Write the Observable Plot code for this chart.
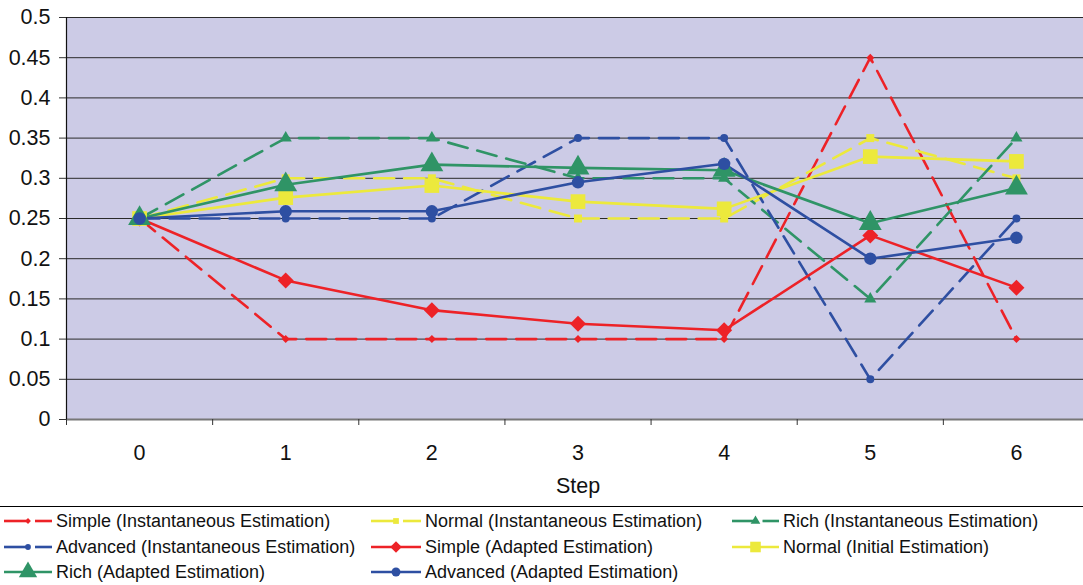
<!DOCTYPE html>
<html><head><meta charset="utf-8">
<script src="https://cdn.jsdelivr.net/npm/d3@7"></script>
<script src="https://cdn.jsdelivr.net/npm/@observablehq/plot@0.6"></script>
<style>
body{margin:0;overflow:hidden;background:#fff;font-family:"Liberation Sans",Arial,sans-serif;}
#legend{position:relative;height:78px;border-top:1.5px solid #000;margin-top:1px;}
.item{position:absolute;display:flex;align-items:center;font-size:18px;color:#111;white-space:nowrap;height:24px;}
.item svg{flex:none;margin-right:4px;}
</style></head><body><div id="chart"></div><div id="legend"></div>
<script>
// Step index along the x axis
const steps = [0, 1, 2, 3, 4, 5, 6];
const yTicks = [0, 0.05, 0.1, 0.15, 0.2, 0.25, 0.3, 0.35, 0.4, 0.45, 0.5];

// Estimated probability per step
const simpleInstant   = [0.25, 0.10, 0.10, 0.10, 0.10, 0.45, 0.10];
const normalInstant   = [0.25, 0.30, 0.30, 0.25, 0.25, 0.35, 0.30];
const richInstant     = [0.25, 0.35, 0.35, 0.30, 0.30, 0.15, 0.35];
const advancedInstant = [0.25, 0.25, 0.25, 0.35, 0.35, 0.05, 0.25];
const simpleAdapted   = [0.25, 0.173, 0.136, 0.119, 0.111, 0.229, 0.164];
const normalInitial   = [0.25, 0.276, 0.291, 0.271, 0.262, 0.327, 0.321];
const richAdapted     = [0.25, 0.292, 0.317, 0.313, 0.310, 0.244, 0.288];
const advancedAdapted = [0.25, 0.259, 0.259, 0.295, 0.318, 0.200, 0.226];

const RED = "#ed2227", YELLOW = "#ece93c", GREEN = "#2f9466", BLUE = "#2e4fa2";

const series = [
  {name: "Simple (Instantaneous Estimation)",   values: simpleInstant,   color: RED,    dashed: true,  symbol: "diamond2", r: 3.6},
  {name: "Normal (Instantaneous Estimation)",   values: normalInstant,   color: YELLOW, dashed: true,  symbol: "square",   r: 4.5},
  {name: "Rich (Instantaneous Estimation)",     values: richInstant,     color: GREEN,  dashed: true,  symbol: "triangle", r: 4.5},
  {name: "Advanced (Instantaneous Estimation)", values: advancedInstant, color: BLUE,   dashed: true,  symbol: "circle",   r: 4},
  {name: "Simple (Adapted Estimation)",         values: simpleAdapted,   color: RED,    dashed: false, symbol: "diamond2", r: 7.2},
  {name: "Normal (Initial Estimation)",         values: normalInitial,   color: YELLOW, dashed: false, symbol: "square",   r: 8.3},
  {name: "Rich (Adapted Estimation)",           values: richAdapted,     color: GREEN,  dashed: false, symbol: "triangle", r: 8.5},
  {name: "Advanced (Adapted Estimation)",       values: advancedAdapted, color: BLUE,   dashed: false, symbol: "circle",   r: 6.2}
];

const xDomain = [steps[0] - 0.5, steps[steps.length - 1] + 0.5];
const boundaries = d3.range(xDomain[0], xDomain[1] + 0.01, 1);

const marks = [
  Plot.frame({fill: "#cccbe6", stroke: null}),
  Plot.ruleY(yTicks.slice(1), {stroke: "#2a2a2a", strokeWidth: 1}),
  Plot.ruleY([0], {stroke: "#777", strokeWidth: 2}),
  Plot.ruleX([xDomain[0]], {stroke: "#111", strokeWidth: 1.2}),
  Plot.axisY({ticks: yTicks, tickSize: 7, tickPadding: 9, label: null, tickFormat: d => String(+d.toFixed(2)), stroke: "#333"}),
  Plot.axisX({ticks: boundaries, tickSize: 6, label: null, tickFormat: () => "", stroke: "#333"}),
  Plot.axisX({ticks: steps, tickSize: 0, tickPadding: 25, label: null, tickFormat: d => String(d)}),
  Plot.text(["Step"], {frameAnchor: "bottom", dy: 67, lineAnchor: "middle", fontSize: 21.5, fill: "#111"})
];

for (const s of series) {
  const rows = steps.map((step, i) => ({step, value: s.values[i]}));
  marks.push(Plot.line(rows, {
    x: "step", y: "value", stroke: s.color, strokeWidth: 2.6,
    strokeDasharray: s.dashed ? "20,10" : null
  }));
}
for (const s of series) {
  const rows = steps.map((step, i) => ({step, value: s.values[i]}));
  marks.push(Plot.dot(rows, {x: "step", y: "value", symbol: () => s.symbol, r: s.r, fill: s.color, stroke: null}));
}

const chart = Plot.plot({
  width: 1083,
  height: 505,
  marginLeft: 66,
  marginRight: -6,
  marginTop: 17,
  marginBottom: 86,
  style: {fontFamily: "'Liberation Sans', Arial, sans-serif", fontSize: "21.5px", color: "#111", background: "#fff"},
  x: {type: "linear", domain: xDomain, axis: null},
  y: {domain: [0, 0.5], axis: null},
  symbol: {type: "identity"},
  marks
});
document.getElementById("chart").appendChild(chart);

// Legend: three columns, filled row by row; swatch markers are drawn a bit smaller
const legend = document.getElementById("legend");
const colX = [4, 371, 732];
const sampleW = [48, 50, 47];
const rowY = [2, 28, 53];
const symbolNames = {diamond2: "Diamond2", square: "Square", triangle: "Triangle", circle: "Circle"};
series.forEach((s, i) => {
  const col = i % 3, row = Math.floor(i / 3);
  const item = document.createElement("div");
  item.className = "item";
  item.style.left = colX[col] + "px";
  item.style.top = rowY[row] + "px";
  const w = sampleW[col];
  const k = s.symbol === "triangle" ? 0.8 : 0.72;
  const r = s.r * k;
  const sym = d3.symbol(d3["symbol" + symbolNames[s.symbol]], Math.PI * r * r)();
  const mid = w / 2;
  const line = s.dashed
    ? `<line x1="0" x2="${mid}" y1="12" y2="12" stroke="${s.color}" stroke-width="2.6"/><line x1="${mid + 7}" x2="${w}" y1="12" y2="12" stroke="${s.color}" stroke-width="2.6"/>`
    : `<line x1="0" x2="${w}" y1="12" y2="12" stroke="${s.color}" stroke-width="2.6"/>`;
  item.innerHTML = `<svg width="${w}" height="24">${line}<path d="${sym}" transform="translate(${mid},12)" fill="${s.color}"/></svg><span>${s.name}</span>`;
  legend.appendChild(item);
});
</script>
</body></html>
